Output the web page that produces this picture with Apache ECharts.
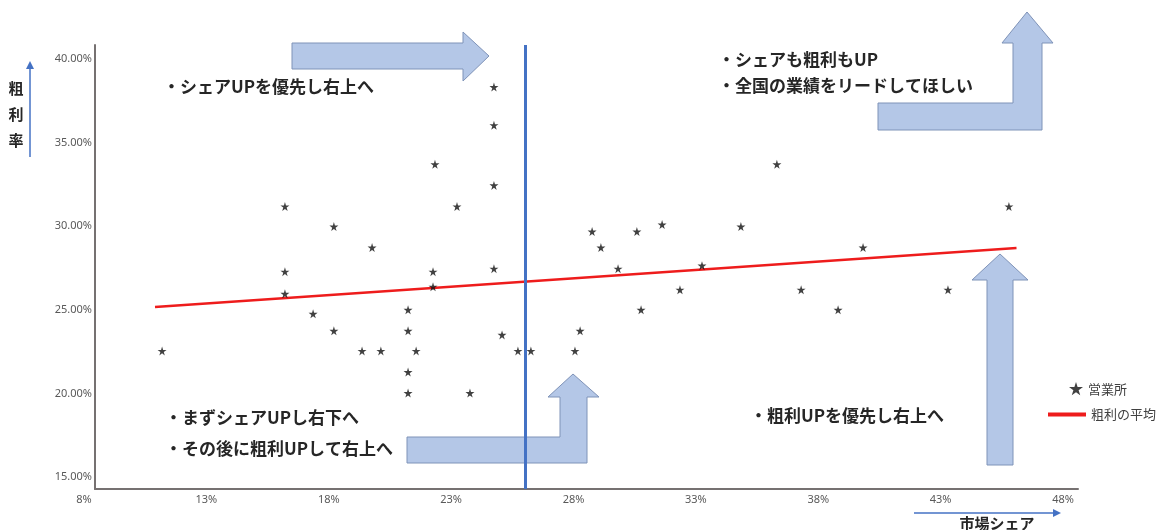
<!DOCTYPE html>
<html>
<head>
<meta charset="utf-8">
<title>市場シェアと粗利率</title>
<script src="https://cdn.jsdelivr.net/npm/echarts@6/dist/echarts.min.js"></script>
<style>
  html, body { margin: 0; padding: 0; background: #fff; }
  #chart { width: 1170px; height: 530px; }
</style>
</head>
<body>
<div id="chart"></div>
<script>
// 営業所ごとの市場シェア(%)
const shareX = [
  11.19, 16.21, 16.21, 16.21, 17.36, 18.21, 18.21, 19.77, 19.36, 20.13, 21.24,
  21.24, 21.24, 21.24, 21.57, 22.26, 22.26, 22.34, 23.24, 23.77, 24.75, 24.75,
  24.75, 24.75, 25.08, 25.73, 26.26, 28.06, 28.27, 28.76, 29.12, 29.82, 30.59,
  30.76, 31.62, 32.35, 33.25, 34.84, 36.31, 37.30, 38.81, 39.83, 43.30, 45.79
]
// 営業所ごとの粗利率(%)
const marginY = [
  22.54, 31.18, 27.28, 25.96, 24.76, 29.98, 23.74, 28.72, 22.54, 22.54, 25.00,
  23.74, 21.28, 20.02, 22.54, 27.28, 26.38, 33.70, 31.18, 20.02, 38.32, 36.04,
  32.44, 27.46, 23.50, 22.54, 22.54, 22.54, 23.74, 29.68, 28.72, 27.46, 29.68,
  25.00, 30.10, 26.20, 27.64, 29.98, 33.70, 26.20, 25.00, 28.72, 26.20, 31.18
]
// 粗利の平均(近似線の両端)
const trendX = [10.9, 46.1]
const trendY = [25.17, 28.70]
// シェアの平均
const avgShare = 26.02

// 軸の目盛り
const xMin = 8, xMax = 48, xStep = 5
const yMin = 15, yMax = 40, yStep = 5

// 注釈テキスト
const notes = [
  {text: '・シェアUPを優先し右上へ', x: 163, y: 87},
  {text: '・シェアも粗利もUP', x: 718, y: 60},
  {text: '・全国の業績をリードしてほしい', x: 718, y: 86},
  {text: '・まずシェアUPし右下へ', x: 165, y: 418},
  {text: '・その後に粗利UPして右上へ', x: 165, y: 449},
  {text: '・粗利UPを優先し右上へ', x: 750, y: 416}
]

// 矢印の形
const blockArrows = [
  [[292, 43], [463, 43], [463, 32], [489, 56], [463, 81], [463, 69], [292, 69]],
  [[878, 103], [1013, 103], [1013, 43], [1002, 43], [1027, 12], [1053, 43], [1042, 43], [1042, 130], [878, 130]],
  [[407, 437], [560, 437], [560, 397], [548, 397], [573, 374], [599, 397], [587, 397], [587, 463], [407, 463]],
  [[987, 465], [987, 280], [972, 280], [1000, 254], [1028, 280], [1013, 280], [1013, 465]]
]

const starPath = 'path://M50,0 L61,35 L98,35 L68,57 L79,91 L50,70 L21,91 L32,57 L2,35 L39,35 Z'
const jpFont = '"Noto Sans CJK JP", "Noto Sans", sans-serif'
const axisGray = '#767171'
const blue = '#4472c4'
const red = '#ee1c1c'

const chart = echarts.init(document.getElementById('chart'))

const graphics = []
blockArrows.forEach(pts => {
  graphics.push({
    type: 'polygon',
    z: -1,
    shape: {points: pts},
    style: {fill: '#b4c7e7', stroke: '#7f93b8', lineWidth: 1}
  })
})
notes.forEach(n => {
  graphics.push({
    type: 'text',
    x: n.x,
    y: n.y,
    style: {
      text: n.text,
      font: 'bold 17px ' + jpFont,
      fill: '#262626',
      verticalAlign: 'middle'
    }
  })
})
// 縦軸タイトルと矢印
graphics.push({
  type: 'text', x: 16, y: 114,
  style: {text: '粗\n利\n率', font: 'bold 15px ' + jpFont, fill: '#262626',
    align: 'center', verticalAlign: 'middle', lineHeight: 26}
})
graphics.push({type: 'line', shape: {x1: 30, y1: 157, x2: 30, y2: 68}, style: {stroke: blue, lineWidth: 1.5}})
graphics.push({type: 'polygon', shape: {points: [[26, 69], [34, 69], [30, 61]]}, style: {fill: blue}})
// 横軸タイトルと矢印
graphics.push({
  type: 'text', x: 997, y: 523,
  style: {text: '市場シェア', font: 'bold 15px ' + jpFont, fill: '#262626',
    align: 'center', verticalAlign: 'middle'}
})
graphics.push({type: 'line', shape: {x1: 914, y1: 513, x2: 1054, y2: 513}, style: {stroke: blue, lineWidth: 1.5}})
graphics.push({type: 'polygon', shape: {points: [[1053, 509], [1053, 517], [1061, 513]]}, style: {fill: blue}})

const option = {
  backgroundColor: '#fff',
  animation: false,
  grid: [
    // データ用
    {left: 84, right: 107, top: 59, bottom: 53},
    // 軸線用(少しずれている)
    {left: 95, right: 92, top: 45, bottom: 41}
  ],
  xAxis: [
    {
      type: 'value', gridIndex: 0, min: xMin, max: xMax, interval: xStep,
      axisLine: {show: false}, axisTick: {show: false}, splitLine: {show: false},
      axisLabel: {margin: 17, color: '#595959', fontSize: 11, fontFamily: 'Noto Sans',
        formatter: v => v + '%'}
    },
    {
      type: 'value', gridIndex: 1,
      min: xMin + 11 / 24.475, max: xMax + 15 / 24.475,
      axisLine: {show: true, onZero: false, lineStyle: {color: axisGray, width: 2}},
      axisTick: {show: false}, axisLabel: {show: false}, splitLine: {show: false}
    }
  ],
  yAxis: [
    {
      type: 'value', gridIndex: 0, min: yMin, max: yMax, interval: yStep,
      axisLine: {show: false}, axisTick: {show: false}, splitLine: {show: false},
      axisLabel: {margin: -8, color: '#595959', fontSize: 11, fontFamily: 'Noto Sans',
        formatter: v => v.toFixed(2) + '%'}
    },
    {
      type: 'value', gridIndex: 1,
      min: yMin - 12 / 16.72, max: yMax + 14 / 16.72,
      axisLine: {show: true, onZero: false, lineStyle: {color: axisGray, width: 2}},
      axisTick: {show: false}, axisLabel: {show: false}, splitLine: {show: false}
    }
  ],
  legend: [
    {
      data: [{name: '営業所', icon: starPath}],
      orient: 'vertical', left: 1064, top: 377,
      itemWidth: 14, itemHeight: 14,
      textStyle: {color: '#404040', fontSize: 13, fontFamily: jpFont}
    },
    {
      data: [{name: '粗利の平均', icon: 'rect'}],
      orient: 'vertical', left: 1043, top: 403,
      itemWidth: 38, itemHeight: 4,
      textStyle: {color: '#404040', fontSize: 13, fontFamily: jpFont}
    }
  ],
  graphic: graphics,
  series: [
    {
      name: '営業所',
      type: 'scatter',
      symbol: starPath,
      symbolSize: 9,
      itemStyle: {color: '#111'},
      data: shareX.map((x, i) => [x, marginY[i]]),
      z: 3
    },
    {
      name: '粗利の平均',
      type: 'line',
      showSymbol: false,
      symbol: 'none',
      lineStyle: {color: red, width: 2.5},
      itemStyle: {color: red},
      data: trendX.map((x, i) => [x, trendY[i]]),
      z: 3
    },
    {
      name: 'シェアの平均',
      type: 'line',
      xAxisIndex: 1,
      yAxisIndex: 1,
      data: [],
      markLine: {
        silent: true,
        symbol: 'none',
        label: {show: false},
        lineStyle: {color: blue, width: 3, type: 'solid'},
        data: [{xAxis: avgShare}]
      },
      z: 2
    }
  ]
}

chart.setOption(option)
</script>
</body>
</html>
